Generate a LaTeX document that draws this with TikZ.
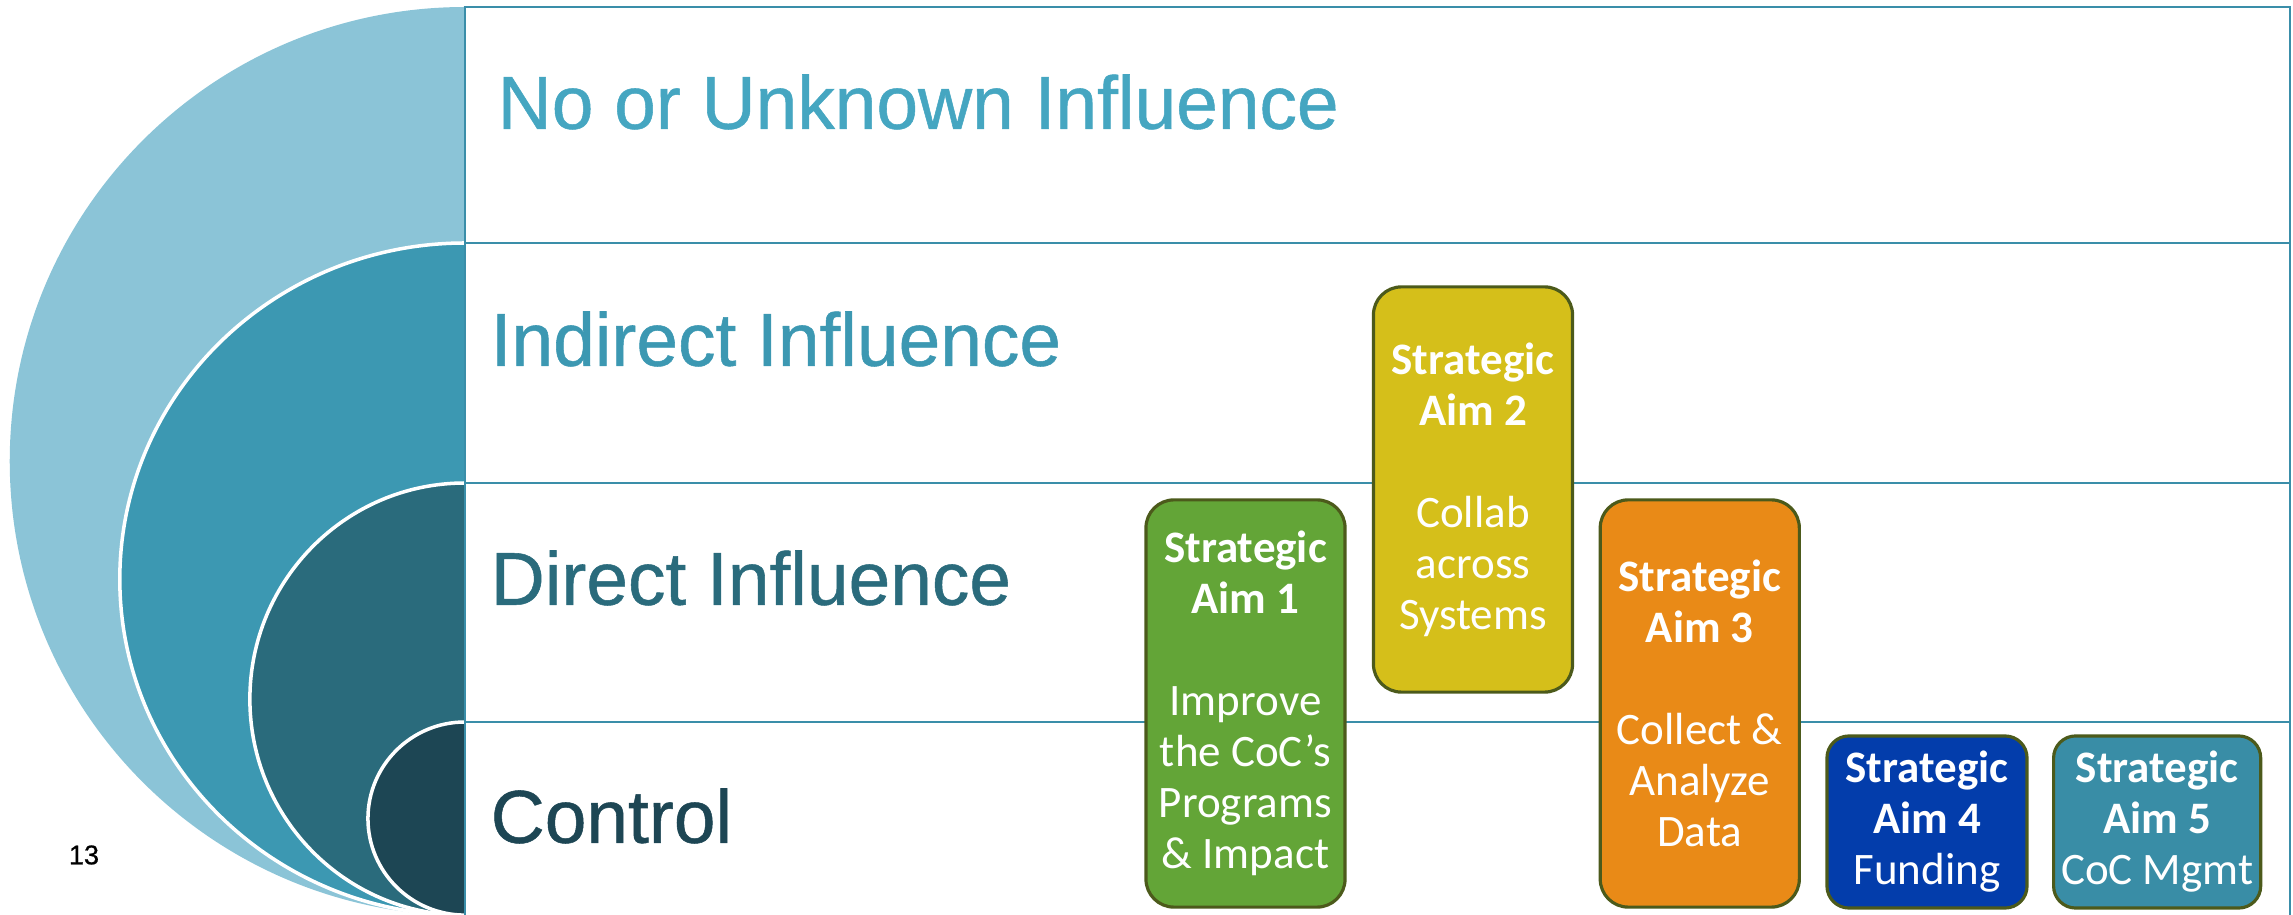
\documentclass[tikz,border=0pt]{standalone}
\usepackage{fontspec}
\setmainfont{Liberation Sans}
\newfontfamily\rowfont[FakeBold=0.7]{Liberation Sans}
\newfontfamily\aimfont{Carlito}
\definecolor{ringouter}{HTML}{8BC4D7}
\definecolor{ringindirect}{HTML}{3C98B2}
\definecolor{ringdirect}{HTML}{2A6B7C}
\definecolor{ringcontrol}{HTML}{1D4654}
\definecolor{labelouter}{HTML}{45A6C1}
\definecolor{gridline}{HTML}{3A8EA9}
\definecolor{aimgreen}{HTML}{63A537}
\definecolor{aimyellow}{HTML}{D5BF1A}
\definecolor{aimorange}{HTML}{E98A17}
\definecolor{aimblue}{HTML}{033DAB}
\definecolor{aimteal}{HTML}{398DA6}
\definecolor{aimedge}{HTML}{4C5A1B}
\tikzstyle{ring} = [draw=white, line width=1pt]
\tikzstyle{grid} = [gridline, line width=0.8pt]
\tikzstyle{rowlabel} = [anchor=west, inner sep=0pt,
font=\rowfont\fontsize{21.3}{25}\selectfont]
\tikzstyle{aim} = [rectangle, rounded corners=0.28cm, minimum width=1.99cm,
minimum height=4.07cm, inner sep=0pt, align=center, text=white,
draw=aimedge, line width=0.9pt, font=\aimfont\fontsize{12.8}{14.5}\selectfont]
\tikzstyle{smallaim} = [aim, rounded corners=0.22cm, minimum height=1.72cm]

\begin{document}
\begin{tikzpicture}[x=0.01cm, y=0.01cm, node distance=2.3cm]
\useasboundingbox (0,0) rectangle (2293,915);
%Drawing the rings
\path[fill=ringouter] (465,908) arc[start angle=90, end angle=270, x radius=4.55cm, y radius=4.54cm];
\path[ring, fill=ringindirect] (465,672) arc[start angle=90, end angle=270, x radius=3.45cm, y radius=3.36cm];
\path[ring, fill=ringdirect] (465,432) arc[start angle=90, end angle=270, x radius=2.15cm, y radius=2.16cm];
\path[ring, fill=ringcontrol] (465,193) arc[start angle=90, end angle=270, x radius=0.97cm, y radius=0.965cm];
%Drawing the rows
\draw[grid] (465,0) -- (465,908) -- (2290,908) -- (2290,0);
\foreach \y in {672,432,193}
  \draw[grid] (465,\y) -- (2290,\y);
%Row labels
\node (none) [rowlabel, text=labelouter] at (497,813) {No or Unknown Influence};
\node (indirect) [rowlabel, text=ringindirect] at (490,576) {Indirect Influence};
\node (direct) [rowlabel, text=ringdirect] at (490,337) {Direct Influence};
\node (control) [rowlabel, text=ringcontrol] at (490,99) {Control};
\node (pagenum) [font=\rowfont\fontsize{7.7}{9}\selectfont] at (84,60) {13};
%Calling the aims
\node (aim1) [aim, fill=aimgreen] at (1245.5,211.5)
  {\textbf{Strategic}\\\textbf{Aim 1}\\[14.5pt]Improve\\the CoC’s\\Programs\\\& Impact};
\node (aim2) [aim, fill=aimyellow, minimum height=4.05cm] at (1473,425.5)
  {\textbf{Strategic}\\\textbf{Aim 2}\\[14.5pt]Collab\\across\\Systems};
\node (aim3) [aim, fill=aimorange, right of=aim1, xshift=2.24cm]
  {\textbf{Strategic}\\\textbf{Aim 3}\\[14.5pt]Collect \&\\Analyze\\Data};
\node (aim4) [smallaim, fill=aimblue, minimum width=2cm] at (1927,93)
  {\textbf{Strategic}\\\textbf{Aim 4}\\Funding};
\node (aim5) [smallaim, fill=aimteal, minimum width=2.07cm, right of=aim4]
  {\textbf{Strategic}\\\textbf{Aim 5}\\CoC Mgmt};
\end{tikzpicture}
\end{document}
